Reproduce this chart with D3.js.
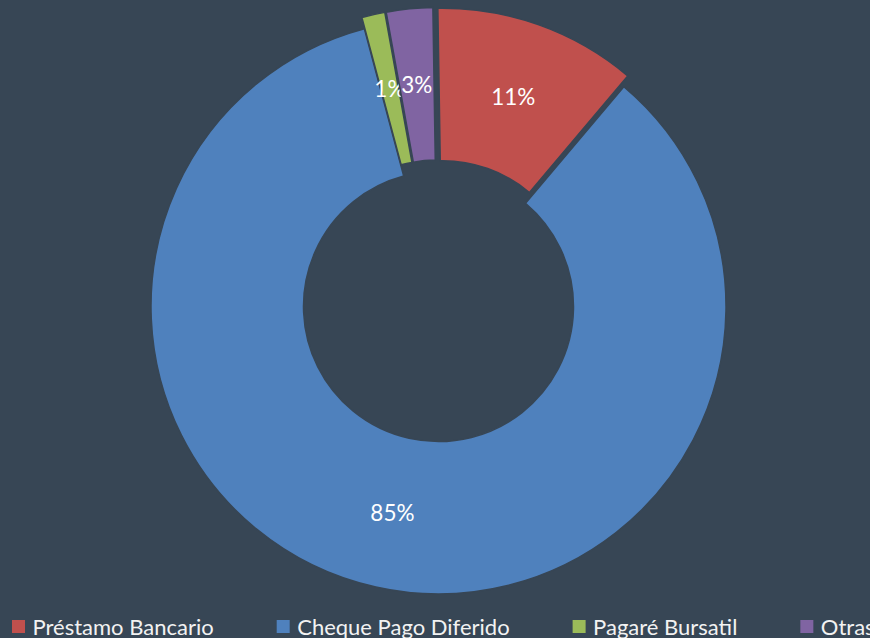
<!DOCTYPE html>
<html>
<head>
<meta charset="utf-8">
<script src="https://cdn.jsdelivr.net/npm/d3@7"></script>
<style>
  html, body { margin: 0; padding: 0; background: #374655; }
  svg { display: block; }
</style>
</head>
<body>
<script>
/* chart data */
var categories = ["Préstamo Bancario", "Cheque Pago Diferido", "Pagaré Bursatil", "Otras"]
var values = [11.4, 84.7, 1.3, 2.6]
var labels = ["11%", "85%", "1%", "3%"]
var colors = ["#C0504D", "#4F81BD", "#9BBB59", "#8064A2"]

var width = 870
var height = 638
var bg = "#374655"
var center = { x: 438.5, y: 306.5 }
var outerR = 287.5
var innerR = 135
var explodeDist = 11.5
var rotation = -0.9 * Math.PI / 180

var svg = d3.select("body")
    .append("svg")
    .attr("width", width)
    .attr("height", height)

svg.append("rect")
    .attr("width", width)
    .attr("height", height)
    .attr("fill", bg)

var pie = d3.pie()
    .sort(null)
    .value(function(d) { return d })
    .startAngle(rotation)
    .endAngle(rotation + 2 * Math.PI)

var arc = d3.arc()
    .innerRadius(innerR)
    .outerRadius(outerR)

var arcs = pie(values)

/* every slice but the big one is pulled out along its middle angle */
function offset(d) {
    if (d.index === 1) return [0, 0]
    var mid = (d.startAngle + d.endAngle) / 2
    return [Math.sin(mid) * explodeDist, -Math.cos(mid) * explodeDist]
}

var g = svg.append("g")
    .attr("transform", "translate(" + center.x + "," + center.y + ")")

var slices = g.selectAll("g.slice")
    .data(arcs)
    .enter()
    .append("g")
    .attr("class", "slice")
    .attr("transform", function(d) {
        var o = offset(d)
        return "translate(" + o[0] + "," + o[1] + ")"
    })

slices.append("path")
    .attr("d", arc)
    .attr("fill", function(d, i) { return colors[i] })
    .attr("stroke", bg)
    .attr("stroke-width", 1.5)

slices.append("text")
    .attr("transform", function(d) { return "translate(" + arc.centroid(d) + ")" })
    .attr("text-anchor", "middle")
    .attr("dy", "0.36em")
    .attr("font-family", "Lato, sans-serif")
    .attr("font-size", "22.5px")
    .attr("fill", "#ffffff")
    .text(function(d, i) { return labels[i] })

/* legend along the bottom */
var legend = svg.append("g").attr("class", "legend")
var lx = 12
categories.forEach(function(name, i) {
    legend.append("rect")
        .attr("x", lx)
        .attr("y", 620)
        .attr("width", 13)
        .attr("height", 13)
        .attr("fill", colors[i])
    var t = legend.append("text")
        .attr("x", lx + 20.5)
        .attr("y", 635)
        .attr("font-family", "Lato, sans-serif")
        .attr("font-size", "22px")
        .attr("fill", "#f2f2f2")
        .text(name)
    lx = lx + 20.5 + t.node().getComputedTextLength() + 63
})
</script>
</body>
</html>
